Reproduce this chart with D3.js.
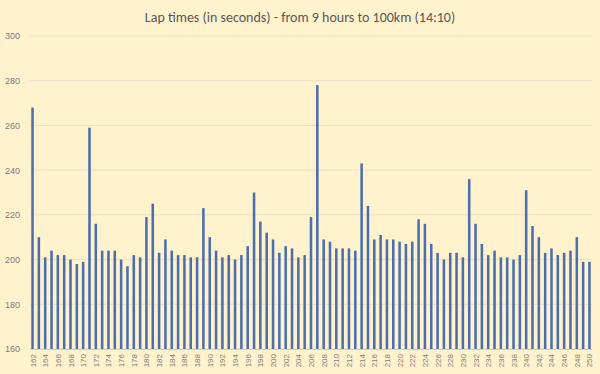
<!DOCTYPE html>
<html>
<head>
<meta charset="utf-8">
<script src="https://cdn.jsdelivr.net/npm/d3@7"></script>
<style>
  body{margin:0;background:#fff2cc;}
  svg{display:block;}
</style>
</head>
<body>
<script>
var title="Lap times (in seconds) - from 9 hours to 100km (14:10)"
var firstLap=162
var lapTimes=[268,210,201,204,202,202,200,198,199,259,
              216,204,204,204,200,197,202,201,219,225,
              203,209,204,202,202,201,201,223,210,204,
              201,202,200,202,206,230,217,212,209,203,
              206,205,201,202,219,278,209,208,205,205,
              205,204,243,224,209,211,209,209,208,207,
              208,218,216,207,203,200,203,203,201,236,
              216,207,202,204,201,201,200,202,231,215,
              210,203,205,202,203,204,210,199,199]
var laps=lapTimes.map(function(d,i){return firstLap+i})
var yTicks=[160,180,200,220,240,260,280,300]

var screen={width:600,height:374}
var margins={top:36,right:8,bottom:25,left:30}
var width=screen.width-margins.left-margins.right
var height=screen.height-margins.top-margins.bottom

var svg=d3.select("body").append("svg")
          .attr("width",screen.width)
          .attr("height",screen.height)
          .style("font-family","Carlito, Calibri, 'Liberation Sans', sans-serif")

svg.append("text")
   .attr("x",screen.width/2)
   .attr("y",22)
   .attr("text-anchor","middle")
   .attr("fill","#595959")
   .style("font-size","14px")
   .text(title)

var xScale=d3.scaleBand()
             .domain(laps)
             .range([0,width])
             .paddingInner(0.6)
             .paddingOuter(0.2)
var yScale=d3.scaleLinear()
             .domain([160,300])
             .range([height,0])

var plot=svg.append("g")
            .attr("transform","translate("+margins.left+","+margins.top+")")

//gridlines
plot.append("g")
    .selectAll("line")
    .data(yTicks)
    .enter()
    .append("line")
    .attr("x1",0)
    .attr("x2",width)
    .attr("y1",function(d){return yScale(d)})
    .attr("y2",function(d){return yScale(d)})
    .attr("stroke","#e8dfc6")
    .attr("stroke-width",1)

//bars
plot.append("g")
    .selectAll("rect")
    .data(lapTimes)
    .enter()
    .append("rect")
    .attr("x",function(d,i){return xScale(laps[i])})
    .attr("y",function(d){return yScale(d)})
    .attr("width",xScale.bandwidth())
    .attr("height",function(d){return height-yScale(d)})
    .attr("fill","#4a6eae")

//axes
var yAxis=d3.axisLeft(yScale).tickValues(yTicks).tickSize(0).tickPadding(10)
var gy=plot.append("g").call(yAxis)
gy.select(".domain").remove()
gy.selectAll("text").attr("fill","#7f7f7f").style("font-size","9px")

var xAxis=d3.axisBottom(xScale)
            .tickValues(laps.filter(function(d){return d%2==0}))
            .tickSize(0)
var gx=plot.append("g")
           .attr("transform","translate(0,"+height+")")
           .call(xAxis)
gx.select(".domain").attr("stroke","#d9d0b8")
gx.selectAll("text")
  .attr("fill","#7f7f7f")
  .style("font-size","8px")
  .attr("transform","rotate(-90)")
  .attr("text-anchor","end")
  .attr("dx","-5")
  .attr("dy","3")
  .attr("y",0)
</script>
</body>
</html>
